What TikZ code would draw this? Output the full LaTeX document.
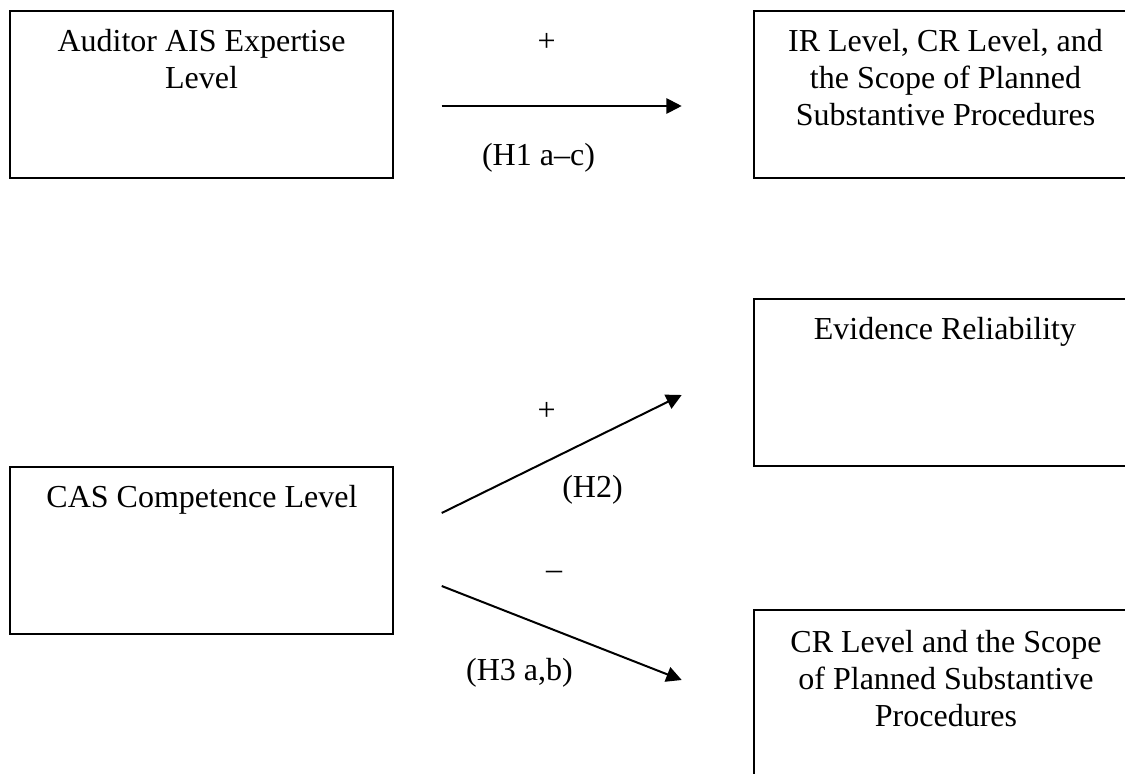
\documentclass[tikz,border=0pt]{standalone}
\usepackage{fontspec}
\setmainfont{Liberation Serif}
\usetikzlibrary{arrows.meta,fit}
\tikzset{
  boxshape/.style={draw=black, line width=1.5pt, inner sep=0pt, rectangle},
  boxtext/.style={anchor=base, inner sep=0pt, font=\fontsize{24pt}{27.75pt}\selectfont},
  lbl/.style={inner sep=0pt, font=\fontsize{24pt}{27.75pt}\selectfont},
  conn/.style={line width=1.5pt, -{Triangle[length=11.5pt,width=11.5pt]}}
}
\newcommand{\boxlines}[1]{\parbox[t]{300pt}{\centering\fontsize{24pt}{27.75pt}\selectfont #1}}
\begin{document}
\begin{tikzpicture}[x=0.75pt,y=-0.75pt]
\path[use as bounding box, clip] (0,0) rectangle (1125,774);
\fill[white] (0,0) rectangle (1125,774);
% boxes
\node[boxshape, fit={(10,10.7) (393,178)}] (b1) {};
\node[boxshape, fit={(754,10.7) (1137,178)}] (b2) {};
\node[boxshape, fit={(754,299) (1137,466)}] (b3) {};
\node[boxshape, fit={(10,466.7) (393,634)}] (b4) {};
\node[boxshape, fit={(754,610) (1137,780)}] (b5) {};
% box texts
\node[boxtext] (t1) at (201.5,52) {\boxlines{Auditor AIS Expertise\\Level}};
\node[boxtext] (t2) at (945.5,52) {\boxlines{IR Level, CR Level, and\\the Scope of Planned\\Substantive Procedures}};
\node[boxtext] (t3) at (945,339) {\boxlines{Evidence Reliability}};
\node[boxtext] (t4) at (202,507) {\boxlines{CAS Competence Level}};
\node[boxtext] (t5) at (946,652) {\boxlines{CR Level and the Scope\\of Planned Substantive\\Procedures}};
% connector end points
\coordinate (a1s) at (441.7,106);
\coordinate (a1e) at (681.7,106);
\coordinate (a2s) at (441.7,513);
\coordinate (a2e) at (681.7,395);
\coordinate (a3s) at (441.7,586);
\coordinate (a3e) at (681.7,680);
\draw[conn] (a1s) -- (a1e);
\draw[conn] (a2s) -- (a2e);
\draw[conn] (a3s) -- (a3e);
% labels
\node[lbl] (p1) at (546.7,42.7) {+};
\node[lbl, anchor=base] (h1) at (538.5,165) {(H1 a–c)};
\node[lbl] (p2) at (546.7,411.7) {+};
\node[lbl, anchor=base] (h2) at (592.5,497) {(H2)};
\node[lbl] (m3) at (554,575) {–};
\node[lbl, anchor=base] (h3) at (519.5,680) {(H3 a,b)};
\end{tikzpicture}
\end{document}
